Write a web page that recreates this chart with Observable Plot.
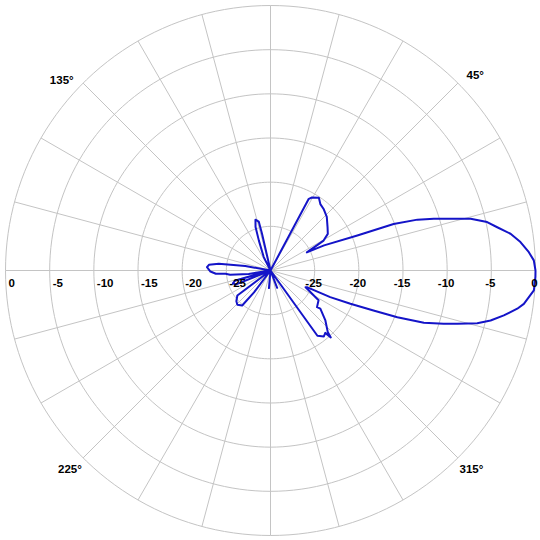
<!DOCTYPE html>
<html>
<head>
<meta charset="utf-8">
<script src="https://cdn.jsdelivr.net/npm/d3@7"></script>
<script src="https://cdn.jsdelivr.net/npm/@observablehq/plot@0.6"></script>
<style>
  html, body { margin: 0; padding: 0; background: #fff; }
  #chart svg { display: block; }
</style>
</head>
<body>
<div id="chart"></div>
<script>
// Radiation pattern (angle in degrees, counter-clockwise from 0°, gain in dB; floor -30 dB at centre)
const angles = [
  0, 2.2, 4.05, 6.5, 8.7, 10.8, 12.6, 14.5, 15.5, 17.6, 19.1, 20.7, 22.0, 25.1, 26.5,
  29.4, 32.6, 37.1, 43.6, 49.2, 53.1, 56.4, 60.4, 61.9, 64,
  102, 103, 103.5, 106.5, 109, 111.3, 116.7, 120,
  168, 170, 172.6, 174.7, 177, 181, 183.4, 184.2, 186, 189,
  194, 196, 199, 202, 204,
  212, 217, 222, 226, 231, 233, 236,
  262, 265, 268,
  288, 291, 294,
  302, 305.7, 309, 311.3, 312, 313, 317.7, 322.6, 321.8, 328.2, 332.4, 334.5,
  335.5, 336, 337.4, 338.8, 339.8, 341.2, 342.9, 344.1, 345.7, 347.2, 349.1, 351.2, 352.5, 355.7, 358.6, 360
];
const gains = [
  0, -0.17, -0.68, -1.52, -2.51, -3.87, -4.87, -6.6, -8.07, -10.6, -12.4, -15.1, -19.4, -23.3, -25.4,
  -23.1, -22.3, -21.9, -21.2, -20.8, -20.6, -20.1, -20.5, -20.8, -30,
  -30, -25.7, -24.3, -24.0, -24.8, -26.4, -28.3, -30,
  -30, -27.1, -24.1, -23.0, -22.8, -23.2, -23.8, -24.9, -25.4, -27.5,
  -30, -25.8, -25.5, -25.8, -30,
  -30, -25.3, -24.8, -24.6, -24.9, -26.9, -30,
  -30, -28.0, -30,
  -30, -27.9, -30,
  -30, -20.9, -20.4, -20.6, -19.8, -20.5, -21.6, -22.9, -23.3, -23.6, -25.1, -25.6,
  -25.4, -22.6, -20.2, -17.5, -14.7, -11.66, -9.5, -8.0, -5.85, -4.45, -3.1, -1.73, -1.07, -0.1, 0, 0
];

const ringValues = [-25, -20, -15, -10, -5, 0];          // radial tick values (dB)
const ringLabels = ["-25", "-20", "-15", "-10", "-5", "0"];
const angleLabelText = ["45°", "135°", "225°", "315°"];
const angleLabelAt = [43.6, 137.6, 224.8, 315.3];
const spokeAngles = d3.range(0, 360, 15);

const FLOOR = -30;
const rad = d => d * Math.PI / 180;
const rOf = v => Math.max(v, FLOOR) - FLOOR;             // radius in dB units above floor
const polar = (a, v) => ({x: rOf(v) * Math.cos(rad(a)), y: rOf(v) * Math.sin(rad(a))});

const pattern = angles.map((a, i) => polar(a, gains[i]));

const rings = ringValues.flatMap(v =>
  d3.range(0, 361, 2).map(a => ({...polar(a, v), ring: v}))
);
const spokes = spokeAngles.map(a => { const p = polar(a, 0); return {x1: 0, y1: 0, x2: p.x, y2: p.y}; });

const leftLabels = ringValues.map((v, i) => ({...polar(180, v), t: ringLabels[i]}));
const rightLabels = ringValues.map((v, i) => ({...polar(0, v), t: ringLabels[i]}));
const angleLabels = angleLabelAt.map((a, i) => ({...polar(a, 2.0), t: angleLabelText[i]}));

const chart = Plot.plot({
  width: 540,
  height: 540,
  marginTop: 5, marginBottom: 5, marginLeft: 5, marginRight: 5,
  x: {domain: [-30, 30], axis: null},
  y: {domain: [-30, 30], axis: null},
  style: {fontFamily: "'Liberation Sans', Arial, sans-serif", background: "#fff"},
  marks: [
    Plot.line(rings, {x: "x", y: "y", z: "ring", stroke: "#c4c4c4", strokeWidth: 1}),
    Plot.link(spokes, {x1: "x1", y1: "y1", x2: "x2", y2: "y2", stroke: "#c4c4c4", strokeWidth: 1}),
    Plot.line(pattern, {x: "x", y: "y", stroke: "#1414c8", strokeWidth: 2, strokeLinejoin: "round"}),
    Plot.text(leftLabels, {x: "x", y: "y", text: "t", textAnchor: "start", dx: 3, dy: 13, fontSize: 11.5, fontWeight: "bold", fill: "#000"}),
    Plot.text(rightLabels, {x: "x", y: "y", text: "t", textAnchor: "middle", dx: -1, dy: 13, fontSize: 11.5, fontWeight: "bold", fill: "#000"}),
    Plot.text(angleLabels, {x: "x", y: "y", text: "t", textAnchor: "middle", fontSize: 11.5, fontWeight: "bold", fill: "#000"})
  ]
});
document.getElementById("chart").appendChild(chart);
</script>
</body>
</html>
